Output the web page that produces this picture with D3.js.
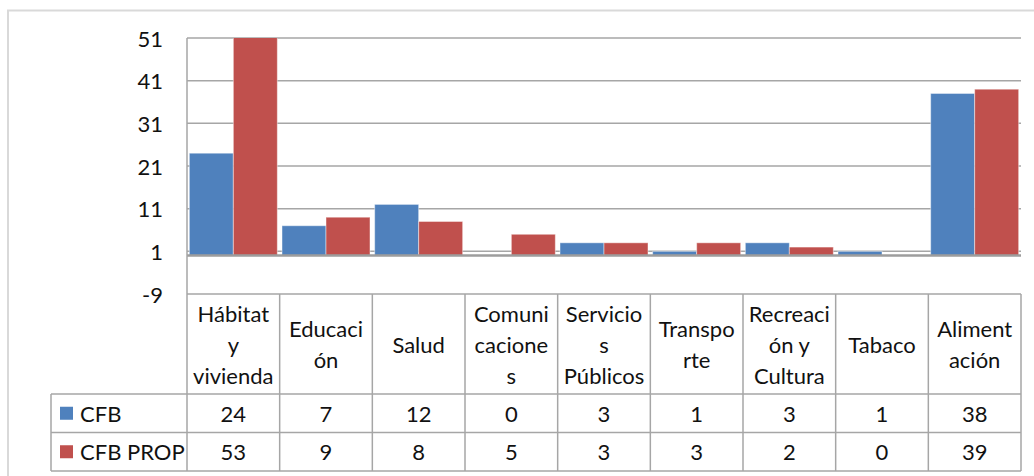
<!DOCTYPE html>
<html>
<head>
<meta charset="utf-8">
<script src="https://cdn.jsdelivr.net/npm/d3@7"></script>
<style>
  html, body { margin: 0; padding: 0; background: #fff; }
  svg { display: block; }
  text { font-family: Lato, "Open Sans", sans-serif; fill: #111; }
</style>
</head>
<body>
<svg id="chart" width="1034" height="476"></svg>
<script>
// Categories, split into the lines shown in the table header
const categories = ["Hábitat y vivienda", "Educación", "Salud", "Comunicaciones",
  "Servicios Públicos", "Transporte", "Recreación y Cultura", "Tabaco", "Alimentación"];
const headerLines = [
  ["Hábitat", "y", "vivienda"],
  ["Educaci", "ón"],
  ["Salud"],
  ["Comuni", "cacione", "s"],
  ["Servicio", "s", "Públicos"],
  ["Transpo", "rte"],
  ["Recreaci", "ón y", "Cultura"],
  ["Tabaco"],
  ["Aliment", "ación"]
];
const seriesNames = ["CFB", "CFB PROP"];
const cfb = [24, 7, 12, 0, 3, 1, 3, 1, 38];
const cfbProp = [53, 9, 8, 5, 3, 3, 2, 0, 39];
const yTicks = [-9, 1, 11, 21, 31, 41, 51];
const colors = ["#4F81BD", "#C0504D"];

const seriesValues = [cfb, cfbProp];
const svg = d3.select("#chart");

// Layout
const plotLeft = 187, plotRight = 1021, plotTop = 38, plotBottom = 294;
const headerBottom = 394, rowH = 38.5;
const legendLeft = 51;

const x = d3.scaleBand().domain(categories).range([plotLeft, plotRight]).padding(0);
const xs = d3.scaleBand().domain(seriesNames).range([0, x.bandwidth()])
  .paddingInner(0).paddingOuter(0.053);
const y = d3.scaleLinear().domain([d3.min(yTicks), d3.max(yTicks)]).range([plotBottom, plotTop]);

// Outer chart frame
svg.append("path")
  .attr("d", "M8,480 V10.5 H1040")
  .attr("fill", "none").attr("stroke", "#d9d9d9").attr("stroke-width", 2);

// Horizontal gridlines
svg.append("g").selectAll("line").data(yTicks.filter(t => t !== d3.min(yTicks))).join("line")
  .attr("x1", plotLeft).attr("x2", plotRight)
  .attr("y1", d => y(d)).attr("y2", d => y(d))
  .attr("stroke", "#a6a6a6").attr("stroke-width", 1.5);

// Y tick labels
svg.append("g").selectAll("text").data(yTicks).join("text")
  .attr("x", 163).attr("y", d => y(d))
  .attr("text-anchor", "end").attr("dominant-baseline", "central")
  .attr("font-size", 22)
  .text(d => d);

// Bars, clipped to the plot area
svg.append("clipPath").attr("id", "plotClip")
  .append("rect").attr("x", plotLeft).attr("y", plotTop)
  .attr("width", plotRight - plotLeft).attr("height", plotBottom - plotTop);

const bars = [];
categories.forEach((c, i) => {
  seriesNames.forEach((s, j) => bars.push({ c, s, j, v: seriesValues[j][i] }));
});
svg.append("g").attr("clip-path", "url(#plotClip)")
  .selectAll("rect").data(bars.filter(d => d.v !== 0)).join("rect")
  .attr("x", d => x(d.c) + xs(d.s))
  .attr("width", xs.bandwidth())
  .attr("y", d => y(Math.max(0, d.v)))
  .attr("height", d => Math.abs(y(d.v) - y(0)))
  .attr("fill", d => colors[d.j])
  .attr("stroke", "rgba(255,255,255,0.45)").attr("stroke-width", 1);

// Horizontal axis at zero
svg.append("line")
  .attr("x1", plotLeft).attr("x2", plotRight)
  .attr("y1", y(0)).attr("y2", y(0))
  .attr("stroke", "#9d9d9d").attr("stroke-width", 2.5);

// Data table grid
const tableBottom = headerBottom + 2 * rowH;
const grid = svg.append("g").attr("stroke", "#a6a6a6").attr("stroke-width", 1.5).attr("fill", "none");
grid.append("line").attr("x1", plotLeft).attr("x2", plotLeft).attr("y1", plotTop).attr("y2", tableBottom);
grid.append("line").attr("x1", plotLeft).attr("x2", plotRight).attr("y1", plotBottom).attr("y2", plotBottom);
[headerBottom, headerBottom + rowH, tableBottom].forEach(yy => {
  grid.append("line").attr("x1", legendLeft).attr("x2", plotRight).attr("y1", yy).attr("y2", yy);
});
grid.append("line").attr("x1", legendLeft).attr("x2", legendLeft).attr("y1", headerBottom).attr("y2", tableBottom);
categories.forEach(c => {
  const xe = x(c) + x.bandwidth();
  grid.append("line").attr("x1", xe).attr("x2", xe).attr("y1", plotBottom).attr("y2", tableBottom);
});

// Header labels
const lineGap = 31;
const headerMid = (plotBottom + headerBottom) / 2;
categories.forEach((c, i) => {
  const lines = headerLines[i];
  const t = svg.append("text")
    .attr("text-anchor", "middle").attr("font-size", 22);
  lines.forEach((ln, k) => {
    t.append("tspan")
      .attr("x", x(c) + x.bandwidth() / 2)
      .attr("y", headerMid + (k - (lines.length - 1) / 2) * lineGap)
      .attr("dominant-baseline", "central")
      .text(ln);
  });
});

// Value rows with legend keys
seriesNames.forEach((s, j) => {
  const rowMid = headerBottom + rowH * j + rowH / 2;
  svg.append("rect")
    .attr("x", 60).attr("y", rowMid - 6.5).attr("width", 13).attr("height", 13)
    .attr("fill", colors[j]);
  svg.append("text")
    .attr("x", 80).attr("y", rowMid).attr("dominant-baseline", "central")
    .attr("font-size", 22).text(s);
  svg.append("g").selectAll("text").data(categories).join("text")
    .attr("x", c => x(c) + x.bandwidth() / 2).attr("y", rowMid)
    .attr("text-anchor", "middle").attr("dominant-baseline", "central")
    .attr("font-size", 22)
    .text((c, i) => seriesValues[j][i]);
});
</script>
</body>
</html>
